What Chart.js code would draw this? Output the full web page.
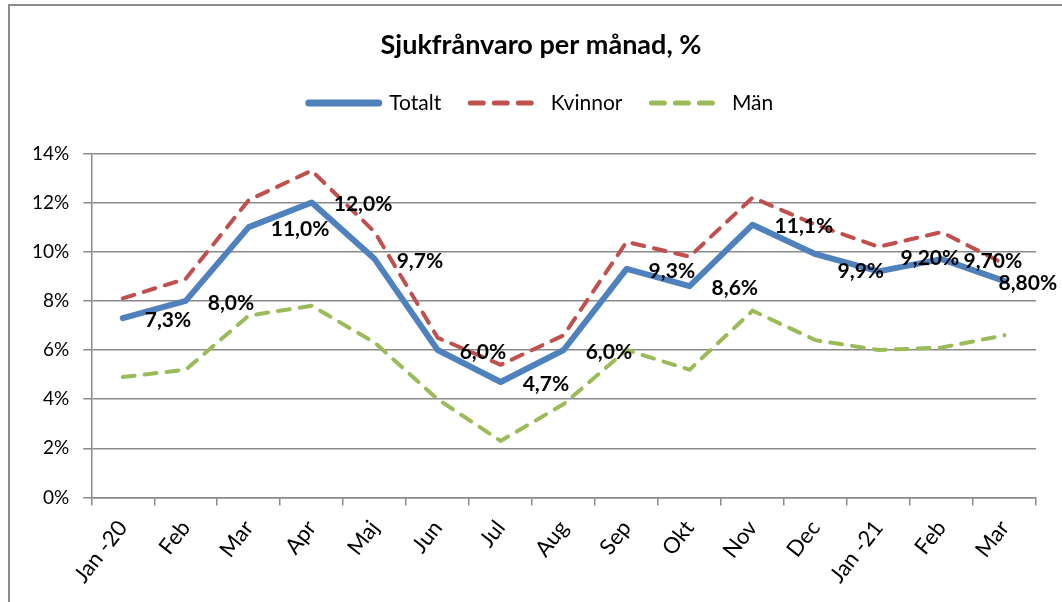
<!DOCTYPE html>
<html lang="sv">
<head>
<meta charset="UTF-8">
<title>Sjukfrånvaro per månad</title>
<script src="https://cdn.jsdelivr.net/npm/chart.js"></script>
<style>
  body { margin: 0; background: #fff; }
  #wrap { position: relative; width: 1062px; height: 602px; overflow: hidden; }
  #frame { position: absolute; left: 8px; top: 4px; width: 1100px; height: 700px; border: 2px solid #8c8c8c; }
  #box { position: absolute; left: 0; top: 0; width: 1062px; height: 602px; }
</style>
</head>
<body>
<div id="wrap">
  <div id="frame"></div>
  <div id="box"><canvas id="chart"></canvas></div>
</div>
<script>
const months = ['Jan -20', 'Feb', 'Mar', 'Apr', 'Maj', 'Jun', 'Jul', 'Aug', 'Sep', 'Okt', 'Nov', 'Dec', 'Jan -21', 'Feb', 'Mar'];
const totalt = [7.3, 8.0, 11.0, 12.0, 9.7, 6.0, 4.7, 6.0, 9.3, 8.6, 11.1, 9.9, 9.2, 9.7, 8.8];
const kvinnor = [8.1, 8.9, 12.1, 13.3, 10.8, 6.5, 5.4, 6.6, 10.4, 9.8, 12.2, 11.1, 10.2, 10.8, 9.5];
const man = [4.9, 5.2, 7.4, 7.8, 6.3, 4.0, 2.3, 3.8, 6.0, 5.2, 7.6, 6.4, 6.0, 6.1, 6.6];
const totaltLabels = ['7,3%', '8,0%', '11,0%', '12,0%', '9,7%', '6,0%', '4,7%', '6,0%', '9,3%', '8,6%', '11,1%', '9,9%', '9,20%', '9,70%', '8,80%'];

// a few labels were moved by hand in the original chart
const labelNudge = { 11: [0, 15], 12: [0, -15], 14: [-28, 0] };

const FONT = 'Lato';
const gridColor = '#8a8a8a';

const pointLabels = {
    id: 'pointLabels',
    afterDatasetsDraw(chart) {
        const ctx = chart.ctx;
        const pts = chart.getDatasetMeta(0).data;
        ctx.save();
        ctx.font = 'bold 21px ' + FONT;
        ctx.fillStyle = '#000';
        ctx.textAlign = 'left';
        ctx.textBaseline = 'middle';
        pts.forEach((p, i) => {
            const n = labelNudge[i] || [0, 0];
            ctx.fillText(totaltLabels[i], p.x + 22 + n[0], p.y + 2 + n[1]);
        });
        ctx.restore();
    }
};

// extra room under the legend, and title + legend sit a bit right of centre
const headerTweak = {
    id: 'headerTweak',
    beforeInit(chart) {
        const fit = chart.legend.fit;
        chart.legend.fit = function () {
            fit.bind(chart.legend)();
            this.height += 30;
        };
    },
    afterLayout(chart) {
        [chart.titleBlock, chart.legend].forEach(b => {
            b.left += 14;
            b.right += 14;
        });
    }
};

new Chart(document.getElementById('chart').getContext('2d'), {
    type: 'line',
    data: {
        labels: months,
        datasets: [
            {
                label: 'Totalt',
                data: totalt,
                borderColor: '#4F81BD',
                backgroundColor: '#4F81BD',
                borderWidth: 6,
                borderCapStyle: 'round',
                borderJoinStyle: 'round',
                pointRadius: 0,
                tension: 0
            },
            {
                label: 'Kvinnor',
                data: kvinnor,
                borderColor: '#C0504D',
                backgroundColor: '#C0504D',
                borderWidth: 4,
                borderDash: [12, 10],
                borderCapStyle: 'round',
                pointRadius: 0,
                tension: 0
            },
            {
                label: 'Män',
                data: man,
                borderColor: '#9BBB59',
                backgroundColor: '#9BBB59',
                borderWidth: 4,
                borderDash: [12, 10],
                borderCapStyle: 'round',
                pointRadius: 0,
                tension: 0
            }
        ]
    },
    options: {
        responsive: true,
        maintainAspectRatio: false,
        animation: false,
        layout: { padding: { left: 18, right: 26, top: 0, bottom: 4 } },
        plugins: {
            title: {
                display: true,
                text: 'Sjukfrånvaro per månad, %',
                color: '#000',
                font: { family: FONT, size: 27, weight: 'bold' },
                padding: { top: 29, bottom: 2 }
            },
            legend: {
                labels: {
                    usePointStyle: true,
                    pointStyle: 'line',
                    pointStyleWidth: 70,
                    boxHeight: 21,
                    color: '#000',
                    padding: 29,
                    font: { family: FONT, size: 21 },
                    generateLabels(chart) {
                        const items = Chart.defaults.plugins.legend.labels.generateLabels(chart);
                        items.forEach(it => {
                            const ds = chart.data.datasets[it.datasetIndex];
                            it.lineDash = ds.borderDash ? [13, 11] : [];
                            it.lineWidth = ds.borderWidth + 1;
                            it.lineCap = 'round';
                        });
                        return items;
                    }
                }
            },
            tooltip: { enabled: false }
        },
        scales: {
            x: {
                offset: true,
                grid: { display: true, offset: true, drawOnChartArea: false, color: gridColor, lineWidth: 1.5, tickLength: 8 },
                border: { color: gridColor, width: 1.5 },
                ticks: { color: '#000', font: { family: FONT, size: 22 }, maxRotation: 52, minRotation: 52, autoSkip: false, padding: 10 }
            },
            y: {
                min: 0,
                max: 14,
                grid: { color: gridColor, lineWidth: 1.5, tickLength: 8 },
                border: { color: gridColor, width: 1.5 },
                ticks: { stepSize: 2, color: '#000', font: { family: FONT, size: 19 }, padding: 14, callback: v => v + '%' }
            }
        }
    },
    plugins: [pointLabels, headerTweak]
});
</script>
</body>
</html>
